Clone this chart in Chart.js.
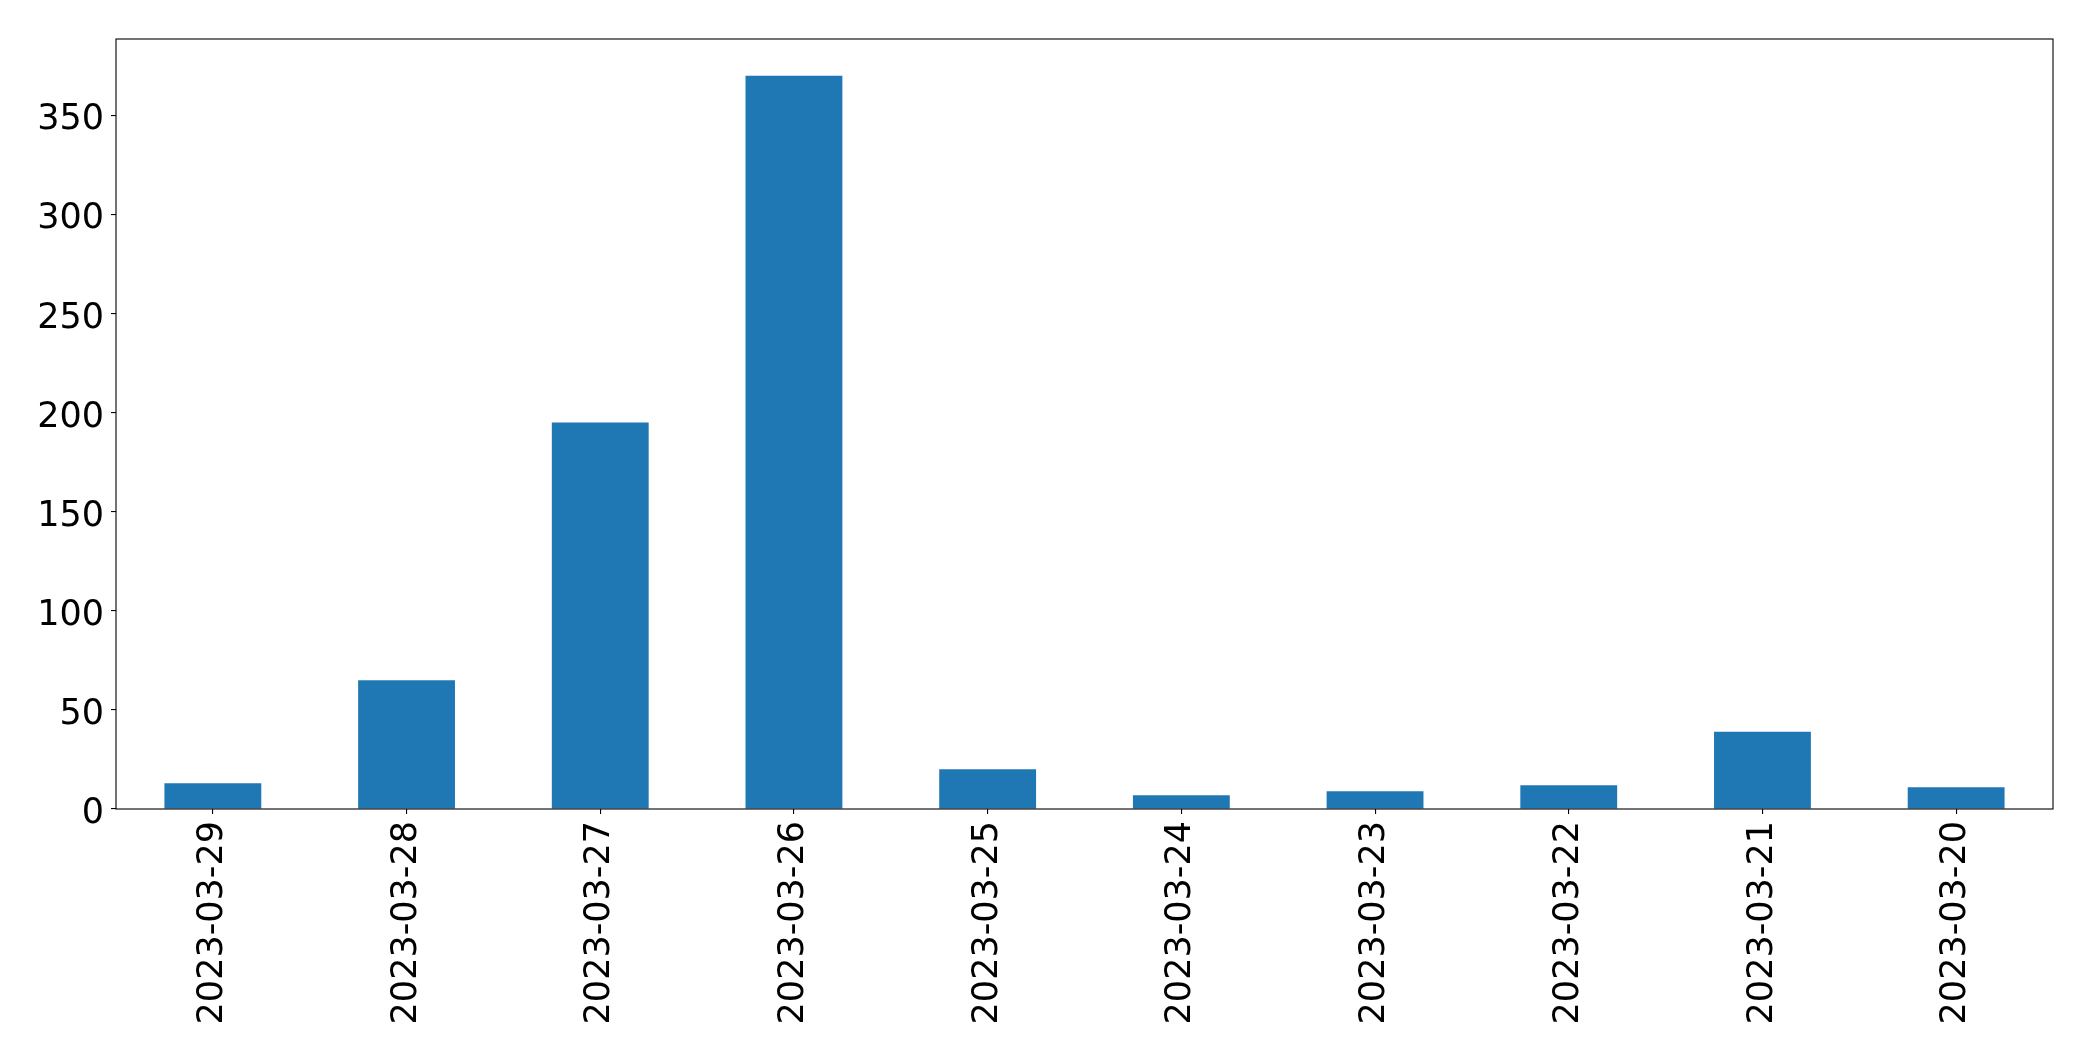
<!DOCTYPE html>
<html>
<head>
<meta charset="utf-8">
<script src="https://cdn.jsdelivr.net/npm/chart.js@4/dist/chart.umd.min.js"></script>
<style>
html,body{margin:0;padding:0;background:#fff;}
#wrap{width:2093px;height:1061px;position:relative;}
</style>
</head>
<body>
<div id="wrap"><canvas id="c" width="2093" height="1061"></canvas></div>
<script>
const categories = ["2023-03-29","2023-03-28","2023-03-27","2023-03-26","2023-03-25","2023-03-24","2023-03-23","2023-03-22","2023-03-21","2023-03-20"];
const counts = [13, 65, 195, 370, 20, 7, 9, 12, 39, 11];
const yTicks = [0, 50, 100, 150, 200, 250, 300, 350];

const frame = {
  id: 'frame',
  afterDraw(chart) {
    const a = chart.chartArea, ctx = chart.ctx;
    ctx.save();
    ctx.strokeStyle = '#000';
    ctx.lineWidth = 1.1;
    ctx.strokeRect(a.left, a.top, a.right - a.left, a.bottom - a.top);
    ctx.restore();
  }
};

new Chart(document.getElementById('c'), {
  type: 'bar',
  data: {
    labels: categories,
    datasets: [{
      data: counts,
      backgroundColor: '#1f77b4',
      borderWidth: 0,
      barPercentage: 0.5,
      categoryPercentage: 1.0
    }]
  },
  options: {
    responsive: false,
    animation: false,
    layout: { padding: { top: 39, right: 40, left: 0, bottom: 0 } },
    plugins: { legend: { display: false }, tooltip: { enabled: false } },
    scales: {
      x: {
        grid: { offset: false, drawOnChartArea: false, drawTicks: true, tickLength: 5, color: '#000', lineWidth: 1.1 },
        border: { display: false },
        ticks: {
          color: '#000',
          font: { family: 'DejaVu Sans', size: 35 },
          maxRotation: 90, minRotation: 90, padding: 7, autoSkip: false
        },
        afterFit(s) { s.height = 252; }
      },
      y: {
        min: 0, max: 388.5,
        grid: { drawOnChartArea: false, drawTicks: true, tickLength: 5, color: '#000', lineWidth: 1.1 },
        border: { display: false },
        afterBuildTicks(s) { s.ticks = yTicks.map(v => ({ value: v })); },
        ticks: {
          color: '#000',
          font: { family: 'DejaVu Sans', size: 35 },
          padding: 7,
          labelOffset: 5
        },
        afterFit(s) { s.width = 116; }
      }
    }
  },
  plugins: [frame]
});
</script>
</body>
</html>
